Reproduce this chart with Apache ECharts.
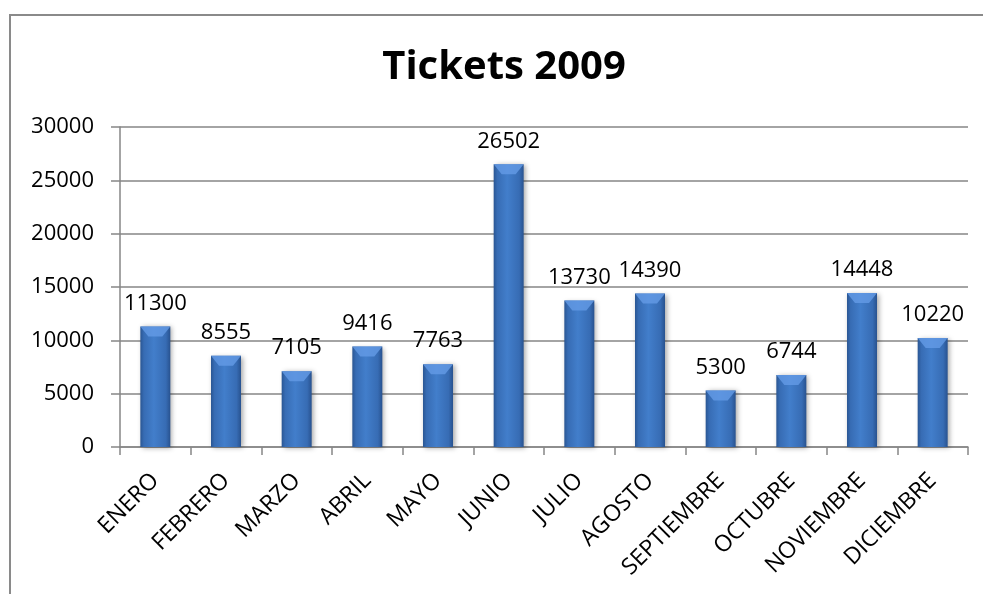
<!DOCTYPE html>
<html>
<head>
<meta charset="utf-8">
<script src="https://cdn.jsdelivr.net/npm/echarts@6/dist/echarts.min.js"></script>
<style>
  html, body { margin: 0; padding: 0; background: #ffffff; }
  #chart { width: 983px; height: 594px; }
</style>
</head>
<body>
<div id="chart"></div>
<script>
// Monthly ticket counts for 2009
const months = ['ENERO', 'FEBRERO', 'MARZO', 'ABRIL', 'MAYO', 'JUNIO', 'JULIO', 'AGOSTO', 'SEPTIEMBRE', 'OCTUBRE', 'NOVIEMBRE', 'DICIEMBRE'];
const tickets = [11300, 8555, 7105, 9416, 7763, 26502, 13730, 14390, 5300, 6744, 14448, 10220];
const chartTitle = 'Tickets 2009';

const font = '"Open Sans", "Noto Sans", sans-serif';
const axisGray = '#868686';

const chart = echarts.init(document.getElementById('chart'));

// Cylinder-like horizontal shading for the columns
const barFill = new echarts.graphic.LinearGradient(0, 0, 1, 0, [
  { offset: 0, color: '#2a5693' },
  { offset: 0.12, color: '#376cb4' },
  { offset: 0.45, color: '#427ecb' },
  { offset: 0.85, color: '#376cb4' },
  { offset: 1, color: '#28528f' }
]);

chart.setOption({
  backgroundColor: '#ffffff',
  animation: false,
  title: {
    text: chartTitle,
    left: 499,
    textAlign: 'center',
    top: 43,
    textStyle: { fontFamily: font, fontWeight: 'bold', fontSize: 40, color: '#000' }
  },
  graphic: [{
    type: 'polyline',
    shape: { points: [[10, 600], [10, 15], [990, 15]] },
    style: { stroke: '#8a8a8a', lineWidth: 2, fill: null },
    silent: true
  }],
  grid: { left: 120, right: 15, top: 127, bottom: 147 },
  xAxis: {
    type: 'category',
    data: months,
    axisLine: { lineStyle: { color: axisGray, width: 1.5 } },
    axisTick: { show: true, alignWithLabel: false, length: 8, lineStyle: { color: axisGray, width: 1.5 } },
    axisLabel: { rotate: 45, margin: 30, fontFamily: font, fontSize: 23, color: '#000', interval: 0 }
  },
  yAxis: {
    type: 'value',
    min: 0,
    max: 30000,
    interval: 5000,
    axisLine: { show: true, lineStyle: { color: axisGray, width: 1.5 } },
    axisTick: { show: true, length: 9, lineStyle: { color: axisGray, width: 1.5 } },
    axisLabel: { margin: 26, fontFamily: font, fontSize: 22, color: '#000', formatter: v => String(v) },
    splitLine: { lineStyle: { color: axisGray, width: 1.5 } }
  },
  series: [
    {
      type: 'bar',
      data: tickets,
      barWidth: 30,
      itemStyle: {
        color: barFill,
        shadowColor: 'rgba(0,0,0,0.35)',
        shadowBlur: 5,
        shadowOffsetX: 2,
        shadowOffsetY: 1
      },
      label: {
        show: true,
        position: 'top',
        distance: 12,
        fontFamily: font,
        fontSize: 22,
        color: '#000'
      }
    },
    {
      // Lighter bevel at the top of each column
      type: 'pictorialBar',
      data: tickets,
      symbol: 'path://M0,0 L30,0 L22,10 L8,10 Z',
      symbolSize: [30, 10],
      symbolPosition: 'end',
      symbolOffset: [0, 0],
      z: 3,
      silent: true,
      itemStyle: { color: 'rgba(100,155,230,0.8)' }
    }
  ]
});
</script>
</body>
</html>
